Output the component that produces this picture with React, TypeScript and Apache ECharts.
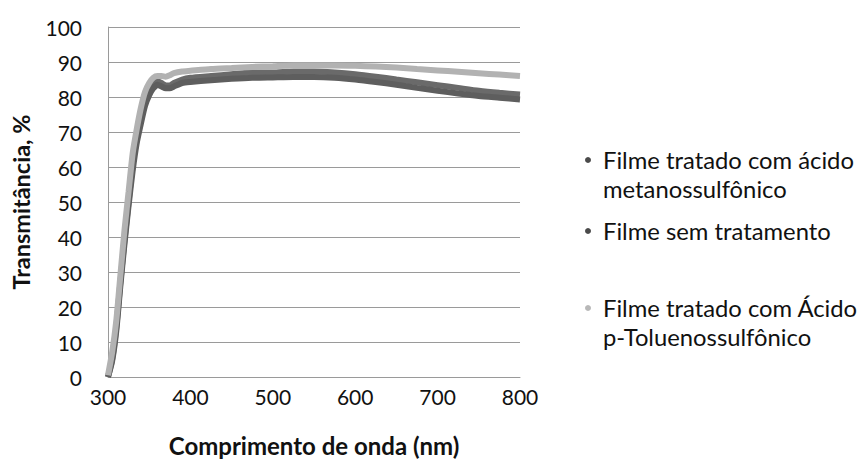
import React, { useEffect, useRef } from "react";
import * as echarts from "echarts";

const wavelengths = [300, 305, 310, 315, 320, 325, 330, 335, 340, 345, 350, 355, 360, 365, 370, 375, 380, 390, 400, 425, 450, 475, 500, 525, 550, 575, 600, 625, 650, 675, 700, 725, 750, 775, 800];

const metanossulfonico = [0, 5, 14, 27, 39, 50, 61, 68, 73.5, 78.5, 81.5, 83.5, 84.5, 84, 83.3, 83.3, 84, 85, 85.5, 86, 86.5, 87, 87, 87.3, 87.3, 87, 86.5, 85.8, 85, 84.2, 83.4, 82.6, 81.8, 81.2, 80.7];
const semTratamento = [0, 4.5, 13, 26, 38, 49, 59, 67, 72.5, 77.5, 80.5, 82.5, 83.5, 83, 82.5, 82.5, 83, 84, 84.3, 84.8, 85.2, 85.5, 85.6, 85.7, 85.7, 85.5, 85, 84.3, 83.5, 82.6, 81.8, 81, 80.3, 79.8, 79.3];
const toluenossulfonico = [0.5, 7, 16, 29, 42, 53, 64, 71, 77, 81.5, 84, 85.5, 86, 86, 85.8, 86.2, 86.8, 87.3, 87.5, 88, 88.3, 88.6, 88.8, 89, 89, 89, 88.9, 88.7, 88.4, 88, 87.6, 87.2, 86.8, 86.4, 86];

const seriesNames = [
  "Filme tratado com ácido metanossulfônico",
  "Filme sem tratamento",
  "Filme tratado com Ácido p-Toluenossulfônico",
];
const legendLines = [
  ["Filme tratado com ácido", "metanossulfônico"],
  ["Filme sem tratamento"],
  ["Filme tratado com Ácido", "p-Toluenossulfônico"],
];
const seriesColors = ["#6a6a6a", "#5e5e5e", "#b2b2b2"];
const legendColors = ["#4a4a4a", "#4a4a4a", "#b8b8b8"];
const legendTops = [160, 231, 308];

const xTicks = [300, 400, 500, 600, 700, 800];

export default function App() {
  const ref = useRef<HTMLDivElement>(null);
  useEffect(() => {
    if (!ref.current) return;
    const chart = echarts.init(ref.current, undefined, { renderer: "svg" });
    const font = "Lato";
    const allData = [metanossulfonico, semTratamento, toluenossulfonico];
    const graphics: any[] = [];
    legendLines.forEach((lines, i) => {
      graphics.push({
        type: "circle",
        shape: { cx: 588, cy: legendTops[i], r: 3 },
        style: { fill: legendColors[i] },
      });
      lines.forEach((ln, j) => {
        graphics.push({
          type: "text",
          x: 603,
          y: legendTops[i] + j * 28.5,
          style: {
            text: ln,
            fontFamily: font,
            fontSize: 23.8,
            fill: "#111",
            verticalAlign: "middle",
            align: "left",
          },
        });
      });
    });
    chart.setOption({
      animation: false,
      backgroundColor: "#ffffff",
      grid: { left: 108, right: 342, top: 27, bottom: 84, containLabel: false, outerBoundsMode: "none" },
      xAxis: {
        type: "value",
        min: 300,
        max: 800,
        interval: 100,
        name: "Comprimento de onda (nm)",
        nameLocation: "middle",
        nameGap: 56,
        nameTextStyle: { fontFamily: font, fontSize: 24, fontWeight: "bold", color: "#111" },
        axisLine: { show: true, lineStyle: { color: "#9a9a9a", width: 1 } },
        axisTick: { show: false },
        splitLine: { show: false },
        axisLabel: {
          fontFamily: font,
          fontSize: 21,
          color: "#111",
          margin: 9,
          customValues: xTicks,
        },
      },
      yAxis: {
        type: "value",
        min: 0,
        max: 100,
        interval: 10,
        name: "Transmitância, %",
        nameLocation: "middle",
        nameGap: 75,
        nameTextStyle: { fontFamily: font, fontSize: 23.5, fontWeight: "bold", color: "#111" },
        axisLine: { show: true, lineStyle: { color: "#9a9a9a", width: 1 } },
        axisTick: { show: false },
        splitLine: { show: true, lineStyle: { color: "#9a9a9a", width: 1 } },
        axisLabel: { fontFamily: font, fontSize: 21, color: "#111", margin: 26 },
      },
      legend: { show: false },
      series: allData.map((d, i) => ({
        name: seriesNames[i],
        type: "line",
        data: wavelengths.map((w, k) => [w, d[k]]),
        showSymbol: false,
        symbol: "circle",
        smooth: 0.2,
        lineStyle: { color: seriesColors[i], width: 6 },
        itemStyle: { color: seriesColors[i] },
        z: i === 2 ? 3 : 2,
      })),
      graphic: graphics,
    });
    return () => chart.dispose();
  }, []);
  return (
    <div style={{ position: "fixed", left: 0, top: 0, width: 862, height: 461, overflow: "hidden" }}>
      <div ref={ref} style={{ width: 862, height: 461 }} />
    </div>
  );
}
